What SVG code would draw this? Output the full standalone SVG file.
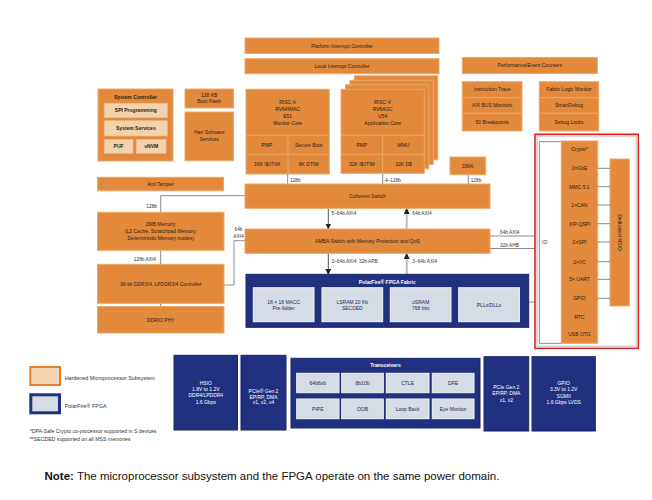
<svg xmlns="http://www.w3.org/2000/svg" width="652" height="500" viewBox="0 0 652 500">
<style>
text{font-family:"Liberation Sans",Arial,sans-serif;}
.o{fill:#E2893C;stroke:#EDA867;stroke-width:1;}
.ol{fill:#F3D2AE;stroke:#EDB98A;stroke-width:0.8;}
.n{fill:#22317F;stroke:#1A2566;stroke-width:1;}
.g{fill:#D6DCE5;stroke:#F2F4F7;stroke-width:1;}
.t{font-size:5px;fill:#2B1D10;text-anchor:middle;}
.tb{font-size:5px;fill:#2B1D10;text-anchor:middle;font-weight:bold;}
.w{font-size:5px;fill:#fff;text-anchor:middle;}
.wb{font-size:5px;fill:#fff;text-anchor:middle;font-weight:bold;}
.gt{font-size:5px;fill:#1E2A55;text-anchor:middle;}
.lab{font-size:4.8px;fill:#333;}
.c{fill:none;stroke:#8A8A8A;stroke-width:1;}
.cu{fill:none;stroke:#BDBDBD;stroke-width:2;}
.cd{fill:none;stroke:#555;stroke-width:1;}
</style>
<defs>
<marker id="ah" markerWidth="6" markerHeight="6" refX="5" refY="3" orient="auto" markerUnits="userSpaceOnUse">
<path d="M0,0 L6,3 L0,6 z" fill="#222"/>
</marker>
</defs>
<rect width="652" height="500" fill="#fff"/>

<g id="connectors">
<line class="c" x1="287.7" y1="174" x2="287.7" y2="184"/>
<text class="lab" x="290" y="182">128b</text>
<line class="c" x1="382.7" y1="173.3" x2="382.7" y2="184"/>
<text class="lab" x="385" y="182">4–128b</text>
<line class="c" x1="468.3" y1="174.7" x2="468.3" y2="184"/>
<text class="lab" x="470.7" y="182">128b</text>
<polyline class="c" points="245,195.7 160.7,195.7 160.7,212.3"/>
<text class="lab" x="157" y="208" text-anchor="end">128b</text>
<line class="c" x1="160.7" y1="250.3" x2="160.7" y2="264.3"/>
<text class="lab" x="156" y="260.8" text-anchor="end">128b AXI4</text>
<polyline class="c" points="224,285 234,285 234,240.7 245,240.7"/>
<text class="lab" x="238.5" y="231" text-anchor="middle">64b</text>
<text class="lab" x="238.5" y="238" text-anchor="middle">AXI4</text>
<line class="c" x1="160.7" y1="303.3" x2="160.7" y2="306.7"/>
<line class="cd" x1="328.3" y1="208.3" x2="328.3" y2="228.5" marker-end="url(#ah)"/>
<text class="lab" x="331.5" y="215">5–64b AXI4</text>
<line class="cu" x1="406.7" y1="229" x2="406.7" y2="209" marker-end="url(#ah)"/>
<text class="lab" x="412.3" y="215">64b AXI4</text>
<line class="cd" x1="328.3" y1="253.3" x2="328.3" y2="274" marker-end="url(#ah)"/>
<text class="lab" x="331.5" y="262.5">2–64b AXI4; 32b APB</text>
<line class="cu" x1="406.7" y1="274.3" x2="406.7" y2="254" marker-end="url(#ah)"/>
<text class="lab" x="412.3" y="262.5">3–64b AXI4</text>
<line class="c" x1="490" y1="236" x2="539.3" y2="236"/>
<text class="lab" x="500" y="234">64b AXI4</text>
<line class="c" x1="490" y1="248.5" x2="539.3" y2="248.5"/>
<text class="lab" x="500" y="246.5">32b AHB</text>
<line class="c" x1="528.7" y1="302" x2="539.3" y2="302"/>
</g>

<g id="platform-interrupt-controller"><rect class="o" x="245" y="38" width="194" height="15.5"/><text class="t" x="342" y="47.5">Platform Interrupt Controller</text></g>
<g id="local-interrupt-controller"><rect class="o" x="245" y="58.7" width="194" height="15"/><text class="t" x="342" y="68">Local Interrupt Controller</text></g>

<g id="perf-counters"><rect class="o" x="462.3" y="57.5" width="135" height="16"/><text class="t" x="529.8" y="67.2">Performance/Event Counters</text></g>
<g id="instruction-trace"><rect class="o" x="462.3" y="81.7" width="59.7" height="16"/><text class="t" x="492.2" y="91.4">Instruction Trace</text></g>
<g id="axi-bus-monitors"><rect class="o" x="462.3" y="97.7" width="59.7" height="15.6"/><text class="t" x="492.2" y="107.2">AXI BUS Monitors</text></g>
<g id="breakpoints"><rect class="o" x="462.3" y="113.3" width="59.7" height="17.7"/><text class="t" x="492.2" y="124">50 Breakpoints</text></g>
<g id="fabric-logic-monitor"><rect class="o" x="539.3" y="81.7" width="59.4" height="16"/><text class="t" x="569" y="91.4">Fabric Logic Monitor</text></g>
<g id="smartdebug"><rect class="o" x="539.3" y="97.7" width="59.4" height="15.6"/><text class="t" x="569" y="107.2">SmartDebug</text></g>
<g id="debug-locks"><rect class="o" x="539.3" y="113.3" width="59.4" height="17.7"/><text class="t" x="569" y="124">Debug Locks</text></g>

<g id="system-controller">
<rect class="o" x="98" y="89" width="75" height="72"/>
<text class="tb" x="135.5" y="98.5">System Controller</text>
<rect class="ol" x="104.3" y="103.3" width="63" height="14.4"/><text class="tb" x="135.8" y="112.2">SPI Programming</text>
<rect class="ol" x="104.3" y="120.7" width="63" height="15.3"/><text class="tb" x="135.8" y="130">System Services</text>
<rect class="ol" x="104.3" y="139.3" width="28.7" height="14"/><text class="tb" x="118.6" y="148">PUF</text>
<rect class="ol" x="136.3" y="139.3" width="29.7" height="14"/><text class="tb" x="151.2" y="148">sNVM</text>
</g>
<g id="boot-flash"><rect class="o" x="185" y="89" width="48.5" height="19"/><text class="t" x="209.2" y="96.8">128 KB</text><text class="t" x="209.2" y="103.4">Boot Flash</text></g>
<g id="hart-software-services"><rect class="o" x="185" y="112" width="48.5" height="48.7"/><text class="t" x="209.2" y="134">Hart Software</text><text class="t" x="209.2" y="140.6">Services</text></g>
<g id="anti-tamper"><rect class="o" x="97.5" y="177.3" width="126" height="13.5"/><text class="t" x="160.5" y="185.8">Anti Tamper</text></g>

<g id="e51">
<rect class="o" x="246" y="89.3" width="83.3" height="84.7"/>
<line stroke="#EDA867" x1="246" y1="135.3" x2="329.3" y2="135.3"/>
<line stroke="#EDA867" x1="246" y1="154.3" x2="329.3" y2="154.3"/>
<line stroke="#EDA867" x1="288" y1="135.3" x2="288" y2="174"/>
<text class="t" x="287.7" y="104">RISC-V</text>
<text class="t" x="287.7" y="111">RV64IMAC</text>
<text class="t" x="287.7" y="118">E51</text>
<text class="t" x="287.7" y="125">Monitor Core</text>
<text class="t" x="267" y="146.5">PMP</text>
<text class="t" x="308.7" y="146.5">Secure Boot</text>
<text class="t" x="267" y="166">16K I$/ITIM</text>
<text class="t" x="308.7" y="166">8K DTIM</text>
</g>

<g id="u54">
<rect class="o" x="354.5" y="75.8" width="83.3" height="84"/>
<rect class="o" x="350" y="80.3" width="83.3" height="84"/>
<rect class="o" x="345.5" y="84.8" width="83.3" height="84"/>
<rect class="o" x="341" y="89.3" width="83.3" height="84"/>
<line stroke="#EDA867" x1="341" y1="135.3" x2="424.3" y2="135.3"/>
<line stroke="#EDA867" x1="341" y1="154.3" x2="424.3" y2="154.3"/>
<line stroke="#EDA867" x1="382.7" y1="135.3" x2="382.7" y2="173.3"/>
<text class="t" x="382.7" y="104">RISC-V</text>
<text class="t" x="382.7" y="111">RV64GC</text>
<text class="t" x="382.7" y="118">U54</text>
<text class="t" x="382.7" y="125">Application Core</text>
<text class="t" x="361.8" y="146.5">PMP</text>
<text class="t" x="403.5" y="146.5">MMU</text>
<text class="t" x="361.8" y="166">32K I$/ITIM</text>
<text class="t" x="403.5" y="166">32K D$</text>
</g>

<g id="dma"><rect class="o" x="450" y="157" width="35.7" height="17.7"/><text class="t" x="467.8" y="167.5">DMA</text></g>
<g id="coherent-switch"><rect class="o" x="245" y="184" width="245" height="24.3"/><text class="t" x="367.5" y="198">Coherent Switch</text></g>
<g id="amba-switch"><rect class="o" x="245" y="229" width="245" height="24.3"/><text class="t" x="367.5" y="243">AMBA Switch with Memory Protection and QoS</text></g>

<g id="memory-2mb"><rect class="o" x="97.5" y="212.3" width="126.5" height="38"/>
<text class="t" x="160.7" y="225.5">2MB Memory</text>
<text class="t" x="160.7" y="232.5">(L2 Cache, Scratchpad Memory,</text>
<text class="t" x="160.7" y="239.5">Deterministic Memory modes)</text></g>
<g id="ddr-controller"><rect class="o" x="97.5" y="264.3" width="126.5" height="39"/><text class="t" x="160.7" y="285.8">36-bit DDR3/4, LPDDR3/4 Controller</text></g>
<g id="ddrio-phy"><rect class="o" x="97.5" y="306.5" width="126.5" height="26.5"/><text class="t" x="160.7" y="321.7">DDRIO PHY</text></g>

<g id="fpga-fabric">
<rect class="n" x="246" y="274.3" width="282.7" height="53"/>
<text class="wb" x="387.3" y="284">PolarFire® FPGA Fabric</text>
<rect class="g" x="253.3" y="287.7" width="60.7" height="34"/><text class="gt" x="283.7" y="303.5">18 × 18 MACC</text><text class="gt" x="283.7" y="310">Pre Adder</text>
<rect class="g" x="322" y="287.7" width="60.7" height="34"/><text class="gt" x="352.3" y="303.5">LSRAM 20 Kb</text><text class="gt" x="352.3" y="310">SECDED</text>
<rect class="g" x="390.3" y="287.7" width="60.7" height="34"/><text class="gt" x="420.7" y="303.5">uSRAM</text><text class="gt" x="420.7" y="310">768 bits</text>
<rect class="g" x="458.7" y="287.7" width="60.7" height="34"/><text class="gt" x="489" y="306.5">PLLs/DLLs</text>
</g>

<g id="io-panel">
<rect x="535" y="134.3" width="103.3" height="214" fill="#fff" stroke="#E3211D" stroke-width="1.6"/>
<rect x="537" y="136.2" width="99.4" height="210.2" fill="none" stroke="#D3D8DE" stroke-width="2"/>
<polyline class="c" points="561.5,141.7 539.3,141.7 539.3,343.3 561.5,343.3"/>
<text x="542" y="244" style="font-size:5px;fill:#333;">IO</text>
<rect class="o" x="561.3" y="141" width="36.4" height="202.3"/>
<rect class="o" x="610" y="159" width="19.3" height="147"/>
<text class="t" transform="translate(617.8,232.5) rotate(90)">Dedicated MSIO</text>
<g class="c">
<line x1="597.7" y1="168.3" x2="610" y2="168.3"/>
<line x1="597.7" y1="186.7" x2="610" y2="186.7"/>
<line x1="597.7" y1="205" x2="610" y2="205"/>
<line x1="597.7" y1="223.7" x2="610" y2="223.7"/>
<line x1="597.7" y1="242" x2="610" y2="242"/>
<line x1="597.7" y1="261.7" x2="610" y2="261.7"/>
<line x1="597.7" y1="279.3" x2="610" y2="279.3"/>
<line x1="597.7" y1="298.3" x2="610" y2="298.3"/>
</g>
<text class="t" x="579.5" y="150.8">Crypto*</text>
<text class="t" x="579.5" y="170">2×GbE</text>
<text class="t" x="579.5" y="188.5">MMC 5.1</text>
<text class="t" x="579.5" y="206.8">2×CAN</text>
<text class="t" x="579.5" y="225.5">XIP-QSPI</text>
<text class="t" x="579.5" y="243.8">2×SPI</text>
<text class="t" x="579.5" y="263.5">2×I²C</text>
<text class="t" x="579.5" y="281.1">5× UART</text>
<text class="t" x="579.5" y="300.1">GPIO</text>
<text class="t" x="579.5" y="319.1">RTC</text>
<text class="t" x="579.5" y="336.1">USB OTG</text>
</g>

<g id="hsio"><rect class="n" x="174" y="355.3" width="63.5" height="74.7"/>
<text class="w" x="205.8" y="384.8">HSIO</text><text class="w" x="205.8" y="391">1.8V to 1.2V</text><text class="w" x="205.8" y="397.2">DDR4/LPDDR4</text><text class="w" x="205.8" y="404">1.6 Gbps</text></g>
<g id="pcie-left"><rect class="n" x="241" y="355.3" width="45" height="74.7"/>
<text class="w" x="263.5" y="393.2">PCIe® Gen 2</text><text class="w" x="263.5" y="398.7">EP/RP, DMA</text><text class="w" x="263.5" y="404">x1, x2, x4</text></g>
<g id="transceivers"><rect class="n" x="291" y="358.3" width="189" height="69.7"/>
<text class="wb" x="385.5" y="366.8">Transceivers</text>
<rect class="g" x="296.7" y="373.3" width="42.3" height="19.4"/><text class="gt" x="317.8" y="384.7">64b6xb</text>
<rect class="g" x="341.7" y="373.3" width="41.6" height="19.4"/><text class="gt" x="362.5" y="384.7">8b10b</text>
<rect class="g" x="386.3" y="373.3" width="42.7" height="19.4"/><text class="gt" x="407.6" y="384.7">CTLE</text>
<rect class="g" x="432.3" y="373.3" width="41.7" height="19.4"/><text class="gt" x="453.1" y="384.7">DFE</text>
<rect class="g" x="296.7" y="399" width="42.3" height="19.7"/><text class="gt" x="317.8" y="410.5">PIPE</text>
<rect class="g" x="341.7" y="399" width="41.6" height="19.7"/><text class="gt" x="362.5" y="410.5">OOB</text>
<rect class="g" x="386.3" y="399" width="42.7" height="19.7"/><text class="gt" x="407.6" y="410.5">Loop Back</text>
<rect class="g" x="432.3" y="399" width="41.7" height="19.7"/><text class="gt" x="453.1" y="410.5">Eye Monitor</text>
</g>
<g id="pcie-right"><rect class="n" x="484" y="356.7" width="44.7" height="74.3"/>
<text class="w" x="506.3" y="389">PCIe Gen 2</text><text class="w" x="506.3" y="395">EP/RP, DMA</text><text class="w" x="506.3" y="402">x1, x2</text></g>
<g id="gpio"><rect class="n" x="532" y="356.7" width="63.3" height="74.3"/>
<text class="w" x="563.7" y="384.8">GPIO</text><text class="w" x="563.7" y="391">3.3V to 1.2V</text><text class="w" x="563.7" y="397.7">SGMII</text><text class="w" x="563.7" y="404.4">1.6 Gbps LVDS</text></g>

<g id="legend">
<rect x="30.3" y="367" width="29.7" height="18" fill="#F5D4B2" stroke="#E2802E" stroke-width="2"/>
<text x="64.7" y="379.8" style="font-size:5.4px;fill:#333;">Hardened Microprocessor Subsystem</text>
<rect x="30.8" y="394.8" width="28.7" height="18" fill="#D6DCE5" stroke="#22317F" stroke-width="3"/>
<text x="64.7" y="407.5" style="font-size:5.4px;fill:#333;">PolarFire® FPGA</text>
<text x="29.7" y="433.4" style="font-size:5.2px;fill:#333;">*DPA-Safe Crypto co-processor supported in S devices</text>
<text x="29.7" y="441" style="font-size:5.2px;fill:#333;">**SECDED supported on all MSS memories</text>
</g>

<g id="note">
<text x="44.5" y="480" style="font-size:11.5px;fill:#111;"><tspan font-weight="bold">Note:</tspan> The microprocessor subsystem and the FPGA operate on the same power domain.</text>
</g>
</svg>
